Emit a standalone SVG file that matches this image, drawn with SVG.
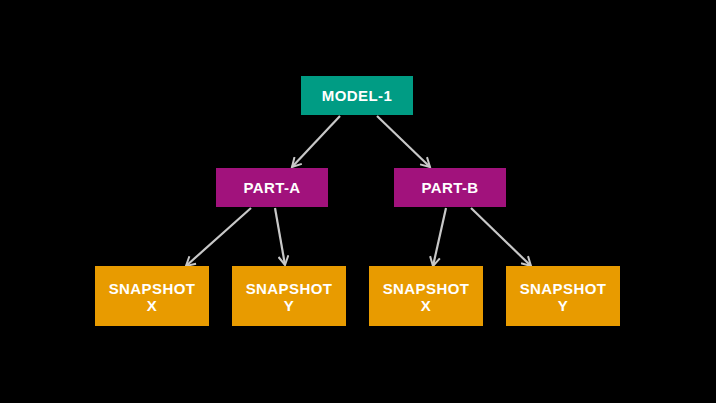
<svg xmlns="http://www.w3.org/2000/svg" width="716" height="403" viewBox="0 0 716 403">
<style>
.bg{fill:#000}
.t{font-family:"Liberation Sans",Arial,sans-serif;font-weight:700;font-size:15px;letter-spacing:0.4px;fill:#fff;text-anchor:middle}
.c{stroke:#c8c8c8;stroke-width:2.2;fill:none;marker-end:url(#ah)}
</style>
<defs>
<marker id="ah" viewBox="0 0 12 12" refX="10" refY="6" markerWidth="12" markerHeight="12" markerUnits="userSpaceOnUse" orient="auto">
<path d="M1,1 L10,6 L1,11" fill="none" stroke="#c8c8c8" stroke-width="2"/>
</marker>
</defs>
<rect class="bg" width="716" height="403"/>
<g id="connectors">
<line class="c" x1="340" y1="116" x2="292" y2="167"/>
<line class="c" x1="377" y1="116" x2="430" y2="167"/>
<line class="c" x1="251" y1="208" x2="186" y2="266"/>
<line class="c" x1="275" y1="208" x2="285" y2="265"/>
<line class="c" x1="446" y1="208" x2="433" y2="266"/>
<line class="c" x1="471" y1="208" x2="531" y2="266"/>
</g>
<g id="model1"><rect x="301" y="76" width="112" height="39" fill="#009c84"/><text class="t" x="357" y="101">MODEL-1</text></g>
<g id="partA"><rect x="216" y="168" width="112" height="39" fill="#a1127c"/><text class="t" x="272" y="193">PART-A</text></g>
<g id="partB"><rect x="394" y="168" width="112" height="39" fill="#a1127c"/><text class="t" x="450" y="193">PART-B</text></g>
<g id="snapAX"><rect x="95" y="266" width="114" height="60" fill="#e89b00"/><text class="t" x="152" y="294">SNAPSHOT</text><text class="t" x="152" y="311">X</text></g>
<g id="snapAY"><rect x="232" y="266" width="114" height="60" fill="#e89b00"/><text class="t" x="289" y="294">SNAPSHOT</text><text class="t" x="289" y="311">Y</text></g>
<g id="snapBX"><rect x="369" y="266" width="114" height="60" fill="#e89b00"/><text class="t" x="426" y="294">SNAPSHOT</text><text class="t" x="426" y="311">X</text></g>
<g id="snapBY"><rect x="506" y="266" width="114" height="60" fill="#e89b00"/><text class="t" x="563" y="294">SNAPSHOT</text><text class="t" x="563" y="311">Y</text></g>
</svg>
